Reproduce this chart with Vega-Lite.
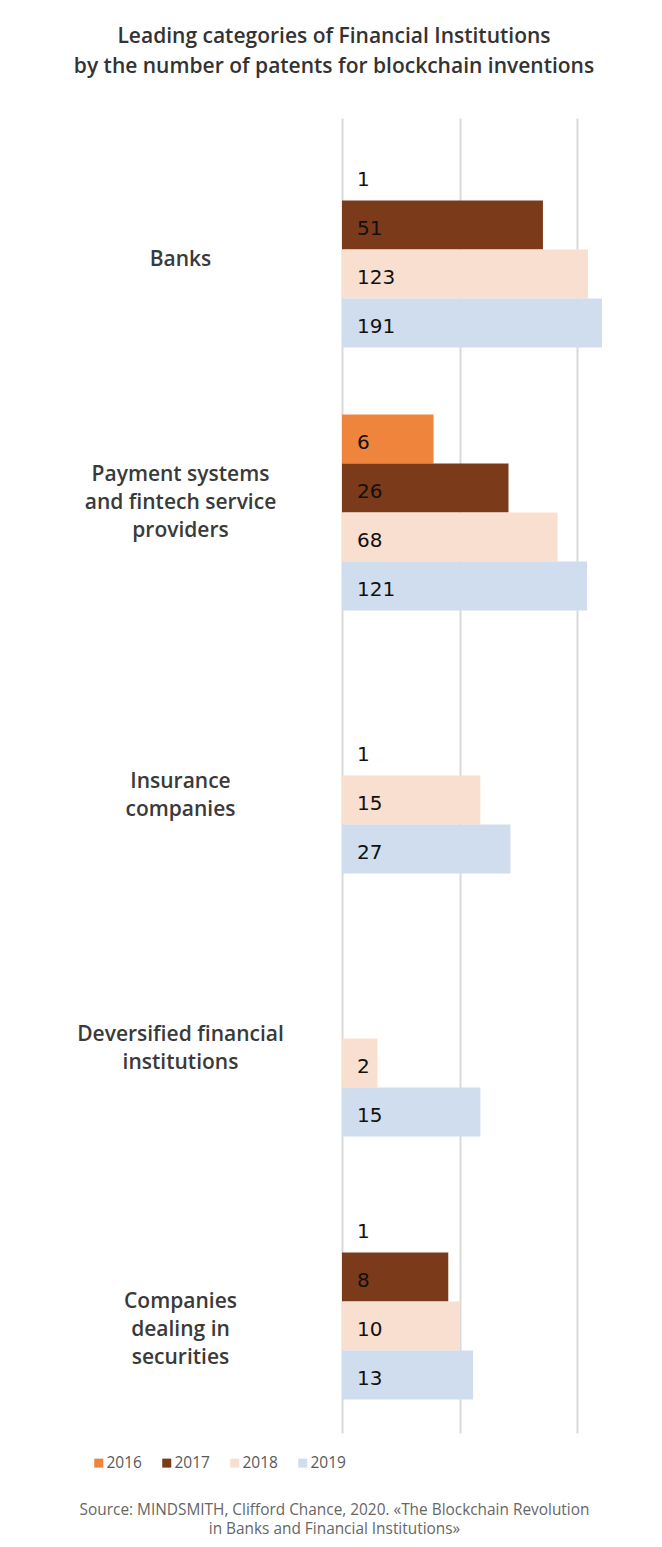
{
  "$schema": "https://vega.github.io/schema/vega-lite/v6.json",
  "width": 260,
  "height": 1315,
  "autosize": {"type": "none"},
  "padding": {"left": 342, "top": 118, "right": 60, "bottom": 114},
  "background": "white",
  "title": {
    "text": ["Leading categories of Financial Institutions", "by the number of patents for blockchain inventions"],
    "font": "Open Sans",
    "fontSize": 21,
    "fontWeight": 600,
    "color": "#333333",
    "lineHeight": 30,
    "anchor": "middle",
    "dx": -138,
    "offset": 41
  },
  "data": {
    "values": [
      {"category": "Banks", "year": "2016", "value": 1},
      {"category": "Banks", "year": "2017", "value": 51},
      {"category": "Banks", "year": "2018", "value": 123},
      {"category": "Banks", "year": "2019", "value": 191},
      {"category": "Payment systems and fintech service providers", "year": "2016", "value": 6},
      {"category": "Payment systems and fintech service providers", "year": "2017", "value": 26},
      {"category": "Payment systems and fintech service providers", "year": "2018", "value": 68},
      {"category": "Payment systems and fintech service providers", "year": "2019", "value": 121},
      {"category": "Insurance companies", "year": "2017", "value": 1},
      {"category": "Insurance companies", "year": "2018", "value": 15},
      {"category": "Insurance companies", "year": "2019", "value": 27},
      {"category": "Deversified financial institutions", "year": "2018", "value": 2},
      {"category": "Deversified financial institutions", "year": "2019", "value": 15},
      {"category": "Companies dealing in securities", "year": "2016", "value": 1},
      {"category": "Companies dealing in securities", "year": "2017", "value": 8},
      {"category": "Companies dealing in securities", "year": "2018", "value": 10},
      {"category": "Companies dealing in securities", "year": "2019", "value": 13}
    ]
  },
  "encoding": {
    "y": {
      "field": "category",
      "type": "nominal",
      "sort": ["Banks", "Payment systems and fintech service providers", "Insurance companies", "Deversified financial institutions", "Companies dealing in securities"],
      "scale": {"paddingInner": 0.255, "paddingOuter": 0.1275},
      "axis": {
        "title": null,
        "domain": false,
        "ticks": false,
        "grid": false,
        "labelAlign": "center",
        "labelBaseline": "middle",
        "labelPadding": 162,
        "labelOffset": {
          "condition": [
            {"test": "datum.value == 'Banks'", "value": 10},
            {"test": "datum.value == 'Payment systems and fintech service providers'", "value": -38},
            {"test": "datum.value == 'Insurance companies'", "value": 6},
            {"test": "datum.value == 'Deversified financial institutions'", "value": -4}
          ],
          "value": 0
        },
        "labelLimit": 400,
        "labelFont": "Open Sans",
        "labelFontSize": 21,
        "labelFontWeight": 600,
        "labelColor": "#3a3a3a",
        "labelLineHeight": 28.3,
        "labelExpr": "datum.value == 'Payment systems and fintech service providers' ? ['Payment systems', 'and fintech service', 'providers'] : datum.value == 'Insurance companies' ? ['Insurance', 'companies'] : datum.value == 'Deversified financial institutions' ? ['Deversified financial', 'institutions'] : datum.value == 'Companies dealing in securities' ? ['Companies', 'dealing in', 'securities'] : datum.label"
      }
    },
    "yOffset": {
      "field": "year",
      "type": "nominal",
      "scale": {"domain": ["2016", "2017", "2018", "2019"], "paddingInner": 0, "paddingOuter": 0}
    }
  },
  "layer": [
    {
      "mark": {"type": "bar"},
      "encoding": {
        "x": {
          "field": "value",
          "type": "quantitative",
          "scale": {"type": "log", "domain": [1, 162], "clamp": true, "nice": false},
          "axis": {
            "orient": "bottom",
            "values": [1, 10, 100],
            "grid": true,
            "gridColor": "#d9d9d9",
            "gridWidth": 2,
            "labels": false,
            "ticks": false,
            "domain": false,
            "title": ["Source: MINDSMITH, Clifford Chance, 2020. «The Blockchain Revolution", "in Banks and Financial Institutions»"],
            "titleFont": "Open Sans",
            "titleFontSize": 15.4,
            "titleFontWeight": "normal",
            "titleColor": "#666666",
            "titleLineHeight": 19.5,
            "titleAlign": "center",
            "titleBaseline": "top",
            "titleX": -8,
            "titleY": 69
          }
        },
        "color": {
          "field": "year",
          "type": "nominal",
          "scale": {"domain": ["2016", "2017", "2018", "2019"], "range": ["#ef843c", "#7b3a19", "#f9dfcf", "#d0ddee"]},
          "legend": {
            "title": null,
            "orient": "none",
            "direction": "horizontal",
            "legendX": -251,
            "legendY": 1337,
            "symbolType": "square",
            "symbolSize": 81,
            "symbolStrokeWidth": 0,
            "labelFont": "Open Sans",
            "labelFontSize": 15.5,
            "labelColor": "#595959",
            "labelOffset": 0,
            "columnPadding": 17
          }
        }
      }
    },
    {
      "mark": {"type": "text", "align": "left", "baseline": "middle", "dx": 15, "dy": 4, "font": "DejaVu Sans", "fontSize": 20, "color": "#111111"},
      "encoding": {
        "x": {"datum": 1, "type": "quantitative"},
        "text": {"field": "value", "type": "quantitative"}
      }
    }
  ],
  "config": {"view": {"stroke": null}}
}
